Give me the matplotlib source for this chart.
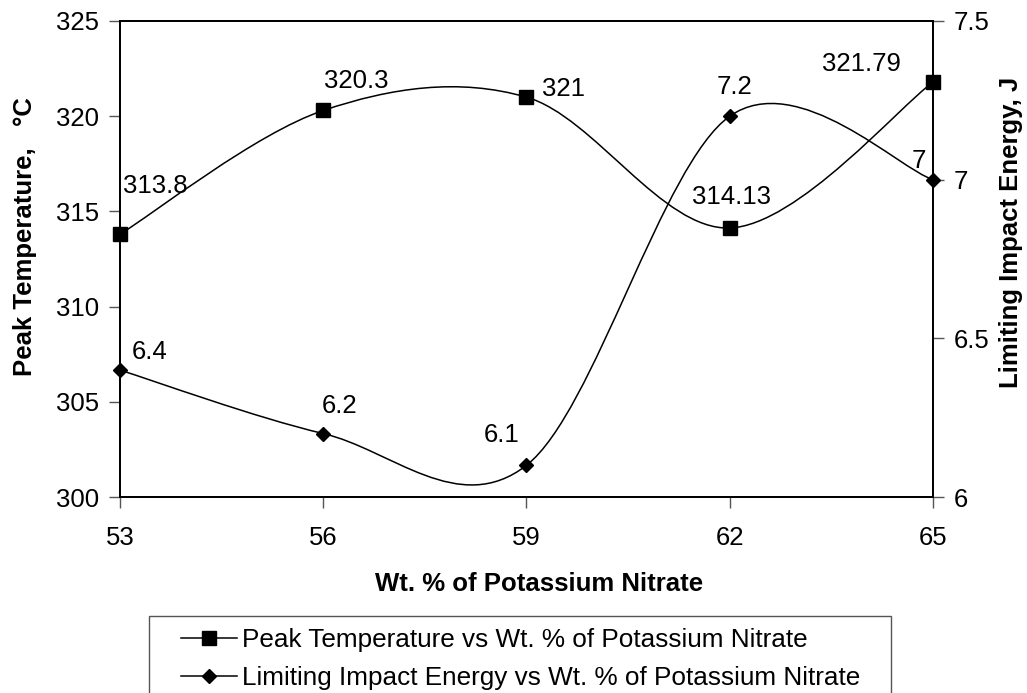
import matplotlib.pyplot as plt
import numpy as np
from matplotlib.path import Path
from matplotlib.patches import PathPatch, Rectangle
from matplotlib.lines import Line2D

plt.rcParams['font.family'] = ['Liberation Sans', 'DejaVu Sans']

wt_pct = [53, 56, 59, 62, 65]
peak_temp = [313.8, 320.3, 321.0, 314.13, 321.79]
impact_energy = [6.4, 6.2, 6.1, 7.2, 7.0]
peak_labels = ["313.8", "320.3", "321", "314.13", "321.79"]
energy_labels = ["6.4", "6.2", "6.1", "7.2", "7"]

# label offsets in pixels (dx, dy)
peak_offsets = [(35, 48), (33, 29), (37, 8), (2, 31), (-72, 18)]
energy_offsets = [(30, 18), (16, 28), (-25, 30), (5, 29), (-14, 19)]


def smooth_path(x, y):
    # Excel-style smoothed line: cubic Bezier segments with Catmull-Rom tangents
    pts = np.column_stack([x, y]).astype(float)
    n = len(pts)
    verts = [pts[0]]
    codes = [Path.MOVETO]
    for i in range(n - 1):
        p_prev = pts[max(i - 1, 0)]
        p0 = pts[i]
        p1 = pts[i + 1]
        p_next = pts[min(i + 2, n - 1)]
        c1 = p0 + (p1 - p_prev) / 6
        c2 = p1 - (p_next - p0) / 6
        verts += [c1, c2, p1]
        codes += [Path.CURVE4] * 3
    return Path(verts, codes)


fig = plt.figure(figsize=(10.27, 6.93), dpi=100)
ax = fig.add_axes([0.1168, 0.2828, 0.7917, 0.6869])
ax2 = ax.twinx()

ax.add_patch(PathPatch(smooth_path(wt_pct, peak_temp), fc='none', ec='black', lw=1.1))
ax.plot(wt_pct, peak_temp, ls='none', marker='s', ms=9.5, color='black', clip_on=False)
ax2.add_patch(PathPatch(smooth_path(wt_pct, impact_energy), fc='none', ec='black', lw=1.1))
ax2.plot(wt_pct, impact_energy, ls='none', marker='D', ms=7, color='black', clip_on=False)

fs = 18.5
for xv, yv, lab, off in zip(wt_pct, peak_temp, peak_labels, peak_offsets):
    ax.annotate(lab, (xv, yv), xytext=off, textcoords='offset pixels',
                ha='center', va='center', fontsize=fs)
for xv, yv, lab, off in zip(wt_pct, impact_energy, energy_labels, energy_offsets):
    ax2.annotate(lab, (xv, yv), xytext=off, textcoords='offset pixels',
                 ha='center', va='center', fontsize=fs)

ax.set_xlim(53, 65)
ax.set_ylim(300, 325)
ax2.set_ylim(6, 7.5)
ax.set_xticks(wt_pct)
ax.set_yticks([300, 305, 310, 315, 320, 325])
ax2.set_yticks([6, 6.5, 7, 7.5])
ax2.set_yticklabels(["6", "6.5", "7", "7.5"])

for a in (ax, ax2):
    a.tick_params(direction='out', length=8, width=1, labelsize=fs, pad=7, color='#555555')
    for s in a.spines.values():
        s.set_linewidth(1.3)
ax.tick_params(axis='x', pad=13)

ax.set_xlabel("Wt. % of Potassium Nitrate", fontsize=fs, fontweight='bold')
ax.set_ylabel("Peak Temperature,   \u00b0C", fontsize=fs, fontweight='bold')
ax2.set_ylabel("Limiting Impact Energy, J", fontsize=fs, fontweight='bold')
ax.xaxis.set_label_coords(0.515, -0.158)
ax.yaxis.set_label_coords(-0.102, 0.548)
ax2.yaxis.set_label_coords(1.0815, 0.557)

# legend frame drawn separately; it runs past the bottom edge like the reference
fig.patches.append(Rectangle((149 / 1027, -0.05), 742 / 1027, (693 - 616) / 693 + 0.05,
                             transform=fig.transFigure, fill=False,
                             edgecolor='#555555', linewidth=1.0))
handles = [
    Line2D([], [], color='black', lw=1.1, marker='s', ms=9.5),
    Line2D([], [], color='black', lw=1.1, marker='D', ms=7),
]
leg = fig.legend(handles,
                 ["Peak Temperature vs Wt. % of Potassium Nitrate",
                  "Limiting Impact Energy vs Wt. % of Potassium Nitrate"],
                 loc='upper left', bbox_to_anchor=(181 / 1027, 1 - 628 / 693),
                 fontsize=18.8, frameon=False,
                 handlelength=2.15, handletextpad=0.2, labelspacing=0.55,
                 borderaxespad=0, borderpad=0)

fig.savefig("out.png", dpi=100)
